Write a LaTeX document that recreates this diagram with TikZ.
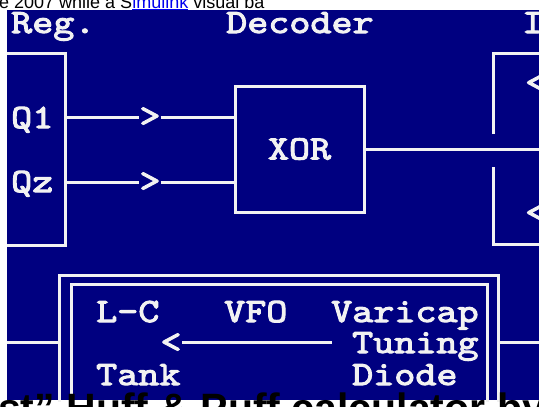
\documentclass[tikz,border=0pt]{standalone}
\usepackage{fontspec}
\setmainfont{Liberation Sans}
\newfontfamily\dosfont{lmmono10-regular.otf}[FakeStretch=1.18,FakeBold=3]
\definecolor{dosblue}{RGB}{0,0,128}
\definecolor{doswhite}{RGB}{242,242,242}
\definecolor{linkblue}{RGB}{0,0,238}
\begin{document}
\begin{tikzpicture}[x=1pt,y=-1pt,
  wire/.style={draw=doswhite, line width=3pt},
  dostext/.style={text=doswhite, font=\dosfont\fontsize{34}{34}\selectfont, inner sep=0pt},
  dos/.style={dostext, anchor=base west},
  chev/.style={dostext, anchor=center}]
\useasboundingbox (0,0) rectangle (539,407);
\begin{scope}
\clip (0,0) rectangle (539,407);
% page text above the screenshot (cut off)
\node[anchor=base west, inner sep=0pt, font=\fontsize{18}{18}\selectfont] (toptext) at (-1,8)
  {e 2007 while a S\textcolor{linkblue}{\underline{imulink}} visual ba};
% screen background
\fill[dosblue] (7,10) rectangle (539,400);
% headings
\node[dos] (reg) at (11,33) {Reg.};
\node[dos] (dec) at (226,33) {Decoder};
\node[dos] (iface) at (522,33) {I};
% register box
\draw[wire] (7,53) -- (65,53) -- (65,245) -- (7,245);
\node[dos] (q1) at (11,128) {Q1};
\node[dos] (q2) at (11,192) {Qz};
\coordinate (q1o) at (65,117);
\coordinate (q2o) at (65,182);
% XOR box
\node[draw=doswhite, line width=3pt, minimum width=129pt, minimum height=126pt,
      inner sep=0pt, text=doswhite, font=\dosfont\fontsize{34}{34}\selectfont]
      (xor) at (299.5,149) {XOR};
% inputs
\node[chev] (c1) at (150,117) {>};
\node[chev] (c2) at (150,182) {>};
\draw[wire] (q1o) -- (c1.west);
\draw[wire] (c1.east) -- (xor.west |- c1);
\draw[wire] (q2o) -- (c2.west);
\draw[wire] (c2.east) -- (xor.west |- c2);
% output
\coordinate (out) at (539,149);
\draw[wire] (xor.east |- out) -- (out);
% right boxes
\draw[wire] (493,134) -- (493,53) -- (539,53);
\draw[wire] (493,167) -- (493,244) -- (539,244);
\node[dos] (r1) at (525,93) {<};
\node[dos] (r2) at (525,223) {<};
% VFO double box
\draw[wire] (59,402) -- (59,275) -- (498,275) -- (498,402);
\draw[wire] (71,402) -- (71,284) -- (487,284) -- (487,402);
\coordinate (lin) at (7,342);
\coordinate (lout) at (59,342);
\coordinate (rin) at (498,342);
\coordinate (rout) at (539,342);
\draw[wire] (lin) -- (lout);
\draw[wire] (rin) -- (rout);
\node[dos] (lc) at (96,322) {L-C};
\node[dos] (vfo) at (224,322) {VFO};
\node[dos] (vari) at (331,322) {Varicap};
\node[dos] (tun) at (352,353) {Tuning};
\node[dos] (tank) at (96,385) {Tank};
\node[dos] (diode) at (352,385) {Diode};
\node[chev] (c3) at (171,343) {<};
\coordinate (tl) at (332,342);
\draw[wire] (tl) -- (c3.east |- tl);
% page text below the screenshot (cut off)
\node[anchor=base west, inner sep=0pt, font=\bfseries\fontsize{41}{41}\selectfont] (bottext) at (-2,422)
  {st" Huff \& Puff calculator by};
\end{scope}
\end{tikzpicture}
\end{document}
